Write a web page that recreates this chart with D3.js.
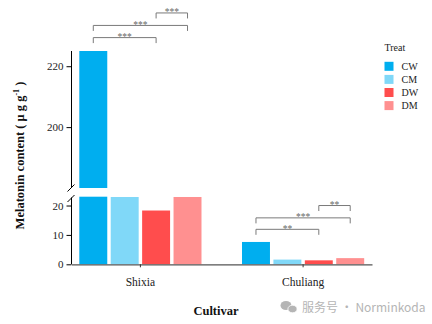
<!DOCTYPE html>
<html><head><meta charset="utf-8">
<script src="https://cdn.jsdelivr.net/npm/d3@7"></script>
<style>body{margin:0;background:#fff}</style>
</head><body><svg id="chart" width="432" height="324"></svg>
<script>
// Melatonin content by cultivar and treatment, with a broken y axis
const cultivars = ["Shixia", "Chuliang"];
const treatments = ["CW", "CM", "DW", "DM"];
const treatColors = ["#00AEEF", "#80D8F8", "#FF4D4D", "#FF9090"];
const shixiaValues = [225, 22.9, 18.3, 22.9];
const chuliangValues = [7.6, 1.6, 1.35, 2.1];
const upperTicks = [200, 220];
const lowerTicks = [0, 10, 20];
// significance brackets: from, to, label, bracket height (data units)
const shixiaSig = [["CW", "DW", "***", 229.4], ["CW", "DM", "***", 233.4], ["DW", "DM", "***", 237.5]];
const chuliangSig = [["CW", "DW", "**", 11.9], ["CW", "DM", "***", 15.8], ["DW", "DM", "**", 20.0]];

const svg = d3.select("#chart");
const serif = "'Liberation Serif','Times New Roman',serif";

const x0 = d3.scaleBand().domain(cultivars).range([71.5, 372]).paddingInner(0.249).paddingOuter(0.048);
const x1 = d3.scaleBand().domain(treatments).range([0, x0.bandwidth()]).paddingInner(0.11);
const color = d3.scaleOrdinal().domain(treatments).range(treatColors);

// two stacked y segments
const yUpper = d3.scaleLinear().domain([180, 225]).range([188, 51]);
const yLower = d3.scaleLinear().domain([0, 23]).range([264.3, 196.7]);

const rows = [];
cultivars.forEach((c, i) => {
  const vals = i === 0 ? shixiaValues : chuliangValues;
  treatments.forEach((t, j) => rows.push({cultivar: c, treat: t, value: vals[j]}));
});

const bars = svg.append("g");
rows.forEach(d => {
  const bx = x0(d.cultivar) + x1(d.treat);
  const lowTop = Math.min(d.value, yLower.domain()[1]);
  bars.append("rect").attr("x", bx).attr("width", x1.bandwidth())
    .attr("y", yLower(lowTop)).attr("height", yLower(0) - yLower(lowTop))
    .attr("fill", color(d.treat));
  if (d.value > yUpper.domain()[0]) {
    const hi = Math.min(d.value, yUpper.domain()[1]);
    bars.append("rect").attr("x", bx).attr("width", x1.bandwidth())
      .attr("y", yUpper(hi)).attr("height", yUpper(yUpper.domain()[0]) - yUpper(hi))
      .attr("fill", color(d.treat));
  }
});

// y axes
const axX = 71.5;
function styleAxis(g) {
  g.select(".domain").remove();
  g.selectAll(".tick line").attr("stroke", "#000").attr("x2", -5);
  g.selectAll(".tick text").attr("font-family", serif).attr("font-size", 11)
    .attr("fill", "#222").attr("x", -8);
}
svg.append("g").attr("transform", `translate(${axX},0)`)
  .call(d3.axisLeft(yUpper).tickValues(upperTicks).tickSize(5)).call(styleAxis);
svg.append("g").attr("transform", `translate(${axX},0)`)
  .call(d3.axisLeft(yLower).tickValues(lowerTicks).tickSize(5)).call(styleAxis);
svg.append("line").attr("x1", axX).attr("x2", axX).attr("y1", yUpper(225)).attr("y2", 187)
  .attr("stroke", "#000");
svg.append("line").attr("x1", axX).attr("x2", axX).attr("y1", 197.5).attr("y2", yLower(0))
  .attr("stroke", "#000");
// break marks
[[188], [198.5]].forEach(([cy]) => {
  svg.append("line").attr("x1", axX - 4).attr("y1", cy + 3.5).attr("x2", axX + 3).attr("y2", cy - 3.5)
    .attr("stroke", "#000").attr("stroke-width", 1);
});

// x axis
const xAxis = svg.append("g").attr("transform", `translate(0,${yLower(0)})`)
  .call(d3.axisBottom(x0).tickSize(3).tickSizeOuter(0));
xAxis.select(".domain").attr("stroke", "#555").attr("stroke-width", 1.3);
xAxis.selectAll(".tick line").attr("stroke", "#333");
xAxis.selectAll(".tick text").attr("font-family", serif).attr("font-size", 11.5)
  .attr("fill", "#222").attr("dy", "1.35em");

// significance brackets
const sigG = svg.append("g");
function drawSig(cultivar, list, y) {
  list.forEach(([a, b, lab, h]) => {
    const xa = x0(cultivar) + x1(a) + x1.bandwidth() / 2;
    const xb = x0(cultivar) + x1(b) + x1.bandwidth() / 2;
    const yy = y(h);
    sigG.append("path")
      .attr("d", `M${xa},${yy + 5.5}V${yy}H${xb}V${yy + 5.5}`)
      .attr("fill", "none").attr("stroke", "#7a7a7a").attr("stroke-width", 1);
    sigG.append("text").attr("x", (xa + xb) / 2).attr("y", yy + 2.5)
      .attr("text-anchor", "middle").attr("font-family", serif).attr("font-size", 9.5)
      .attr("fill", "#666").text(lab);
  });
}
drawSig("Shixia", shixiaSig, yUpper);
drawSig("Chuliang", chuliangSig, yLower);

// axis titles
svg.append("text").attr("x", 216).attr("y", 315).attr("text-anchor", "middle")
  .attr("font-family", serif).attr("font-weight", "bold").attr("font-size", 12.5)
  .attr("fill", "#111").text("Cultivar");
const yl = svg.append("text").attr("transform", "translate(24,155.5) rotate(-90)")
  .attr("text-anchor", "middle").attr("font-family", serif).attr("font-weight", "bold")
  .attr("font-size", 12.5).attr("fill", "#111");
yl.append("tspan").text("Melatonin content ( \u03BC g g");
yl.append("tspan").attr("font-size", 8).attr("dy", -5).text("-1");
yl.append("tspan").attr("dy", 5).text(" )");

// legend
const leg = svg.append("g").attr("transform", "translate(384.5,0)");
leg.append("text").attr("x", 0).attr("y", 51).attr("font-family", serif).attr("font-size", 10)
  .attr("fill", "#222").text("Treat");
treatments.forEach((t, i) => {
  const cy = 66.3 + i * 13.1;
  leg.append("rect").attr("x", 0).attr("y", cy - 4.5).attr("width", 9).attr("height", 9)
    .attr("fill", color(t));
  leg.append("text").attr("x", 17).attr("y", cy + 3.5).attr("font-family", serif)
    .attr("font-size", 10).attr("fill", "#222").text(t);
});

// account mark
const wm = svg.append("g").attr("fill", "#b5b5b5");
wm.append("ellipse").attr("cx", 286).attr("cy", 305.5).attr("rx", 5.5).attr("ry", 4.6);
wm.append("ellipse").attr("cx", 292.5).attr("cy", 309).attr("rx", 4.6).attr("ry", 3.8)
  .attr("stroke", "#fff").attr("stroke-width", 0.8);
wm.append("text").attr("x", 302).attr("y", 311.5).attr("font-family", "'Noto Sans CJK SC','Noto Sans',sans-serif")
  .attr("font-size", 12).text("服务号 · Norminkoda");
</script></body></html>
